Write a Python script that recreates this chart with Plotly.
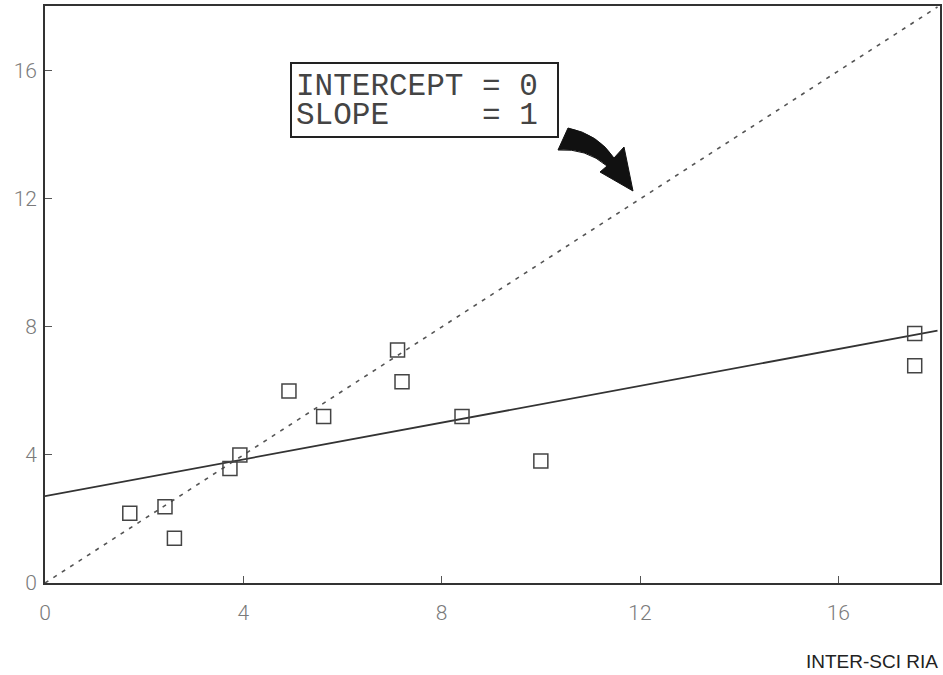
import numpy as np
import plotly.graph_objects as go

# Data
inter_sci_ria = [1.71, 2.42, 2.61, 3.73, 3.93, 4.92, 5.62, 7.11, 7.20, 8.41, 10.0, 17.54, 17.54]
other_ria = [2.18, 2.38, 1.40, 3.58, 4.00, 6.00, 5.20, 7.28, 6.29, 5.20, 3.81, 7.80, 6.79]
tick_vals = [0, 4, 8, 12, 16]
tick_text = ["0", "4", "8", "12", "16"]
line_x = [0, 18]

slope, intercept = np.polyfit(inter_sci_ria, other_ria, 1)
fit_y = [intercept + slope * v for v in line_x]

W, H = 943, 675
ML, MR, MT, MB = 45, 3, 6, 92
XR = [0, 18.05]
YR = [0, 18.03]


def p2d(px, py):
    x = XR[0] + (px - ML) / (W - ML - MR) * (XR[1] - XR[0])
    y = YR[1] - (py - MT) / (H - MT - MB) * (YR[1] - YR[0])
    return x, y


fig = go.Figure()
fig.add_trace(go.Scatter(x=line_x, y=line_x, mode="lines",
                         line=dict(color="#555", width=1.6, dash="4px,6px"),
                         hoverinfo="skip", showlegend=False))
fig.add_trace(go.Scatter(x=line_x, y=fit_y, mode="lines",
                         line=dict(color="#333", width=1.8),
                         hoverinfo="skip", showlegend=False))
fig.add_trace(go.Scatter(x=inter_sci_ria, y=other_ria, mode="markers",
                         marker=dict(symbol="square-open", size=14,
                                     color="#444", line=dict(width=1.5, color="#444")),
                         showlegend=False))

# Box with text
x0, y0 = p2d(291, 63)
x1, y1 = p2d(558, 137)
fig.add_shape(type="rect", xref="x", yref="y", x0=x0, y0=y0, x1=x1, y1=y1,
              line=dict(color="#222", width=2), fillcolor="white", layer="above")
for txt, py in [("INTERCEPT = 0", 86), ("SLOPE\u00a0\u00a0\u00a0\u00a0\u00a0= 1", 115)]:
    tx, ty = p2d(294, py)
    fig.add_annotation(x=tx, y=ty, xref="x", yref="y", text=txt, showarrow=False,
                       xanchor="left", yanchor="middle",
                       font=dict(family="Liberation Mono, Courier New, monospace",
                                 size=31, color="#444"))

# Curved arrow
pts = {
    "P1": p2d(568, 128), "C1": p2d(598, 134), "P2": p2d(614, 158),
    "W1": p2d(624, 147), "T": p2d(633, 191), "W2": p2d(600, 172),
    "P3": p2d(607, 166), "C2": p2d(586, 148), "P4": p2d(558, 150),
}
f = lambda k: f"{pts[k][0]:.4f},{pts[k][1]:.4f}"
path = (f"M {f('P1')} Q {f('C1')} {f('P2')} L {f('W1')} L {f('T')} L {f('W2')} "
        f"L {f('P3')} Q {f('C2')} {f('P4')} Z")
fig.add_shape(type="path", xref="x", yref="y", path=path,
              fillcolor="#111", line=dict(color="#111", width=1), layer="above")

# Axis title
fig.add_annotation(x=1, y=-(661 - (H - MB)) / (H - MT - MB), xref="paper", yref="paper",
                   xanchor="right", yanchor="middle", text="INTER-SCI RIA", showarrow=False,
                   font=dict(family="Liberation Sans, Arial, sans-serif", size=19, color="#222"))

axis_common = dict(showgrid=False, zeroline=False, showline=True, linecolor="#333",
                   linewidth=1.6, mirror=True, ticks="inside", ticklen=7, tickwidth=1,
                   tickcolor="#555", tickvals=tick_vals, ticktext=tick_text, automargin=False,
                   tickfont=dict(family="Roboto, Liberation Sans, sans-serif",
                                 size=21, color="#7a7a7a", weight=300))
fig.update_xaxes(range=XR, ticklabelstandoff=10, **axis_common)
fig.update_yaxes(range=YR, ticklabelstandoff=2, **axis_common)

fig.update_layout(width=W, height=H, margin=dict(l=ML, r=MR, t=MT, b=MB),
                  plot_bgcolor="white", paper_bgcolor="white")
fig.write_html("out.html", config={"displayModeBar": False},
               post_script="document.body.style.margin='0';document.body.style.overflow='hidden';")
